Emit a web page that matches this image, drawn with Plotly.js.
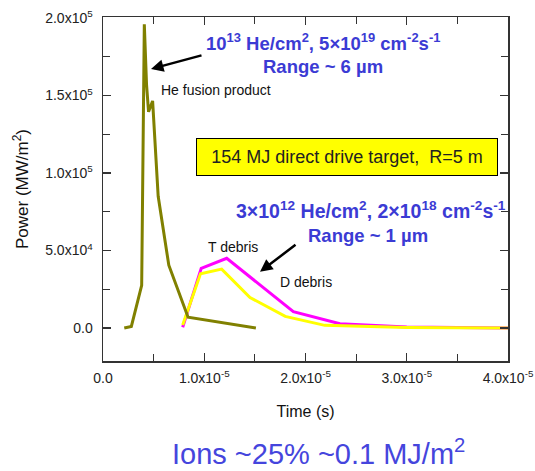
<!DOCTYPE html>
<html>
<head>
<meta charset="utf-8">
<script src="https://cdn.plot.ly/plotly-3.0.1.min.js"></script>
<style>html,body{margin:0;padding:0;background:#fff;}#chart{width:535px;height:471px;}</style>
</head>
<body>
<div id="chart"></div>
<script>
// He fusion product (olive)
const heTime  = [2.1e-6, 2.8e-6, 3.82e-6, 4.08e-6, 4.3e-6, 4.5e-6, 4.9e-6, 5.45e-6, 6.5e-6, 8.4e-6, 1.51e-5];
const hePower = [0, 1000, 27500, 196000, 157000, 139500, 146500, 85000, 40500, 7000, 0];
// T debris (magenta)
const tTime  = [7.87e-6, 9.7e-6, 1.222e-5, 1.88e-5, 2.34e-5, 3.0e-5, 4.0e-5];
const tPower = [500, 38500, 45000, 10500, 2800, 600, 0];
// D debris (yellow)
const dTime  = [7.87e-6, 9.63e-6, 1.172e-5, 1.452e-5, 1.80e-5, 2.19e-5, 3.0e-5, 4.0e-5];
const dPower = [2000, 35000, 38000, 19700, 7500, 1700, 400, 0];

const xTickVals = [0, 1e-5, 2e-5, 3e-5, 4e-5];
const xTickText = ['0.0', '1.0x10<sup>-5</sup>', '2.0x10<sup>-5</sup>', '3.0x10<sup>-5</sup>', '4.0x10<sup>-5</sup>'];
const yTickVals = [0, 5e4, 1e5, 1.5e5, 2e5];
const yTickText = ['0.0', '5.0x10<sup>4</sup>', '1.0x10<sup>5</sup>', '1.5x10<sup>5</sup>', '2.0x10<sup>5</sup>'];

const FONT = 'Liberation Sans, Arial, sans-serif';
const BLUE = '#3b3bd4';

const traces = [
  {x: tTime, y: tPower, mode: 'lines', line: {color: '#ff00ff', width: 3}, name: 'T debris'},
  {x: dTime, y: dPower, mode: 'lines', line: {color: '#ffff00', width: 3}, name: 'D debris'},
  {x: heTime, y: hePower, mode: 'lines', line: {color: '#808000', width: 3}, name: 'He fusion product'}
];

function txt(text, x, y, size, color, opts) {
  return Object.assign({text: text, xref: 'paper', yref: 'paper', x: x, y: y,
    xanchor: 'center', yanchor: 'middle', showarrow: false,
    font: {family: FONT, size: size, color: color}}, opts || {});
}

const annotations = [
  txt('<b>10<sup>13</sup> He/cm<sup>2</sup>, 5×10<sup>19</sup> cm<sup>-2</sup>s<sup>-1</sup></b>', 0.543, 0.927, 18.5, BLUE),
  txt('<b>Range ~ 6 µm</b>', 0.544, 0.855, 18.5, BLUE),
  txt('He fusion product', 0.139, 0.788, 14, '#111', {xanchor: 'left'}),
  txt('154 MJ direct drive target,  R=5 m', 0.602, 0.594, 18, '#222',
      {bgcolor: '#ffff00', bordercolor: '#000', borderwidth: 1, borderpad: 1, width: 298, height: 34}),
  txt('<b>3×10<sup>12</sup> He/cm<sup>2</sup>, 2×10<sup>18</sup> cm<sup>-2</sup>s<sup>-1</sup></b>', 0.661, 0.439, 19.5, BLUE),
  txt('<b>Range ~ 1 µm</b>', 0.654, 0.366, 18.5, BLUE),
  txt('T debris', 0.321, 0.332, 14, '#111'),
  txt('D debris', 0.502, 0.2305, 14, '#111'),
  txt('Ions ~25% ~0.1 MJ/m<sup>2</sup>', 0.532, -0.264, 29, '#4545dd'),
  {text: '', xref: 'paper', yref: 'paper', x: 0.1185, y: 0.849, ax: 52, ay: -14,
   showarrow: true, arrowhead: 2, arrowsize: 1, arrowwidth: 2.5, arrowcolor: '#000', standoff: 0},
  {text: '', xref: 'paper', yref: 'paper', x: 0.3877, y: 0.2596, ax: 37, ay: -28,
   showarrow: true, arrowhead: 2, arrowsize: 1, arrowwidth: 2.5, arrowcolor: '#000', standoff: 0}
];

const axisCommon = {
  showline: true, linecolor: '#333', linewidth: 1.5, mirror: 'ticks',
  ticks: 'inside', ticklen: 8, tickcolor: '#333', tickwidth: 1.2,
  showgrid: false, zeroline: false,
  tickfont: {family: FONT, size: 14, color: '#222'}
};

const layout = {
  width: 535, height: 471,
  margin: {l: 103, r: 27, t: 17, b: 110},
  paper_bgcolor: '#fff', plot_bgcolor: '#fff',
  showlegend: false,
  font: {family: FONT},
  xaxis: Object.assign({}, axisCommon, {
    range: [0, 4e-5], tickmode: 'array', tickvals: xTickVals, ticktext: xTickText,
    ticklabelstandoff: 4,
    minor: {tickmode: 'linear', tick0: 0, dtick: 5e-6, ticks: 'inside', ticklen: 7, tickcolor: '#333'},
    title: {text: 'Time (s)', font: {family: FONT, size: 16, color: '#111'}, standoff: 20}
  }),
  yaxis: Object.assign({}, axisCommon, {
    range: [-21290, 200645], tickmode: 'array', tickvals: yTickVals, ticktext: yTickText,
    ticklabelstandoff: 6,
    minor: {tickmode: 'linear', tick0: 0, dtick: 25000, ticks: 'inside', ticklen: 7, tickcolor: '#333'},
    title: {text: 'Power (MW/m<sup>2</sup>)', font: {family: FONT, size: 17, color: '#111'}, standoff: 12}
  }),
  annotations: annotations
};

Plotly.newPlot('chart', traces, layout, {displayModeBar: false, staticPlot: true});
</script>
</body>
</html>
